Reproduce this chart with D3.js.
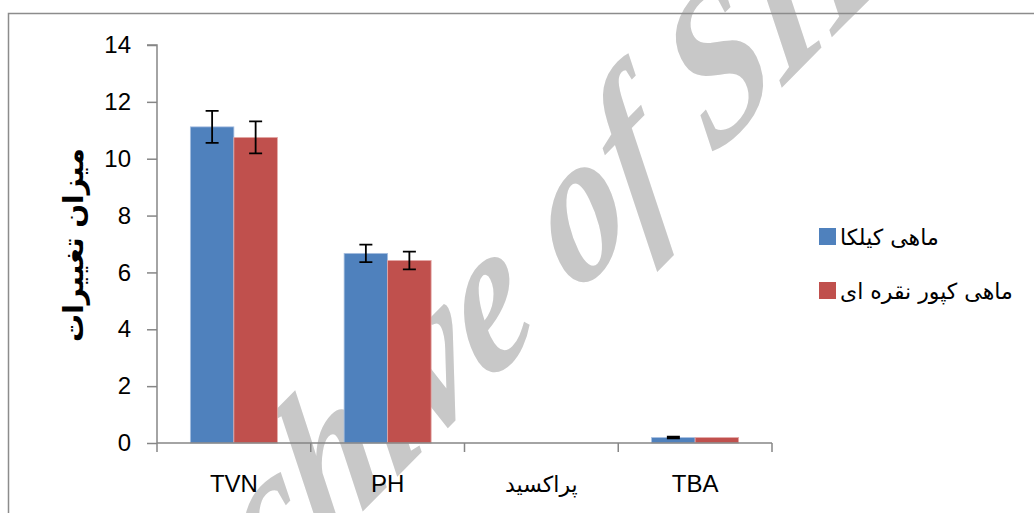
<!DOCTYPE html>
<html>
<head>
<meta charset="utf-8">
<script src="https://cdn.jsdelivr.net/npm/d3@7"></script>
<style>
  html, body { margin: 0; padding: 0; background: #fff; }
  svg { display: block; }
</style>
</head>
<body>
<svg id="chart" width="1034" height="513"></svg>
<script>
const categories = ["TVN", "PH", "پراکسید", "TBA"];
const seriesNames = ["ماهی کیلکا", "ماهی کپور نقره ای"];
const kilkaValues = [11.12, 6.67, 0, 0.19];
const kilkaErrors = [0.56, 0.31, 0, 0.03];
const carpValues = [10.75, 6.42, 0, 0.19];
const carpErrors = [0.56, 0.31, 0, 0];
const yTicks = [0, 2, 4, 6, 8, 10, 12, 14];
const yTitle = "میزان تغییرات";
const watermark = "Archive of SID";

const colors = ["#4f81bd", "#c0504d"];
const edgeColors = ["#a7bfe0", "#e4a9a7"];
const seriesValues = [kilkaValues, carpValues];
const seriesErrors = [kilkaErrors, carpErrors];

const svg = d3.select("#chart");

// watermark (behind everything), clipped to the page
svg.append("clipPath").attr("id", "page")
  .append("rect").attr("x", 0).attr("y", 0).attr("width", 1034).attr("height", 513);
svg.append("g").attr("clip-path", "url(#page)")
  .append("text")
  .attr("transform", "translate(132,745) scale(0.7,1) rotate(-35.3)")
  .attr("font-family", "'Liberation Serif', serif")
  .attr("font-style", "italic")
  .attr("font-weight", "bold")
  .attr("font-size", 223)
  .attr("fill", "#c8c8c8")
  .text(watermark);

// outer chart border
svg.append("rect")
  .attr("x", 8.5).attr("y", 13.5)
  .attr("width", 1200).attr("height", 700)
  .attr("fill", "none")
  .attr("stroke", "#8c8c8c")
  .attr("stroke-width", 1.5);

const x0 = d3.scaleBand().domain(categories).range([157, 772]).paddingInner(0).paddingOuter(0);
const x1 = d3.scaleBand().domain([0, 1]).range([0, x0.bandwidth()]).paddingInner(0).paddingOuter(0.767);
const y = d3.scaleLinear().domain([0, 14]).range([443, 45]);

// bars
const data = [];
categories.forEach((c, i) => {
  [0, 1].forEach(s => {
    data.push({ cat: c, s: s, v: seriesValues[s][i], e: seriesErrors[s][i] });
  });
});

svg.append("g").selectAll("rect")
  .data(data.filter(d => d.v > 0))
  .join("rect")
  .attr("x", d => x0(d.cat) + x1(d.s))
  .attr("y", d => y(d.v))
  .attr("width", x1.bandwidth())
  .attr("height", d => y(0) - y(d.v))
  .attr("fill", d => colors[d.s])
  .attr("stroke", d => edgeColors[d.s])
  .attr("stroke-width", 0.8);

// y axis
const yAxis = d3.axisLeft(y).tickValues(yTicks).tickSize(10).tickPadding(16).tickFormat(d3.format("d"));
const gy = svg.append("g").attr("transform", "translate(157,0)").call(yAxis);
gy.select(".domain").attr("stroke", "#868686").attr("stroke-width", 1.5)
  .attr("d", `M-10,${y(14)}H0V${y(0)}`);
gy.selectAll(".tick line").attr("stroke", "#868686").attr("stroke-width", 1.5);
gy.selectAll(".tick text")
  .attr("font-family", "'Liberation Sans', Arial, sans-serif")
  .attr("font-size", 24)
  .attr("fill", "#000");

// x axis
const gx = svg.append("g").attr("transform", `translate(0,${y(0)})`);
gx.append("line")
  .attr("x1", 157).attr("x2", 772).attr("y1", 0).attr("y2", 0)
  .attr("stroke", "#868686").attr("stroke-width", 1.5);
const boundaries = categories.map(c => x0(c)).concat([x0(categories[categories.length - 1]) + x0.bandwidth()]);
gx.selectAll("line.tk")
  .data(boundaries)
  .join("line")
  .attr("class", "tk")
  .attr("x1", d => d).attr("x2", d => d)
  .attr("y1", 0).attr("y2", 9)
  .attr("stroke", "#868686").attr("stroke-width", 1.5);
gx.selectAll("text")
  .data(categories)
  .join("text")
  .attr("x", d => x0(d) + x0.bandwidth() / 2)
  .attr("y", 49)
  .attr("text-anchor", "middle")
  .attr("font-family", d => /[A-Za-z]/.test(d) ? "'Liberation Sans', Arial, sans-serif" : "'DejaVu Sans', sans-serif")
  .attr("font-size", d => /[A-Za-z]/.test(d) ? 24 : 22)
  .attr("fill", "#000")
  .text(d => d);

// error bars
const eb = svg.append("g").attr("stroke", "#000").attr("stroke-width", 1.8).attr("fill", "none");
data.filter(d => d.e > 0).forEach(d => {
  const cx = x0(d.cat) + x1(d.s) + x1.bandwidth() / 2;
  const yt = y(d.v + d.e), yb = y(d.v - d.e);
  eb.append("path")
    .attr("d", `M${cx},${yt}V${yb}M${cx - 6.5},${yt}H${cx + 6.5}M${cx - 6.5},${yb}H${cx + 6.5}`);
});

// y title
svg.append("text")
  .attr("transform", "translate(83,245) rotate(-90)")
  .attr("text-anchor", "middle")
  .attr("font-family", "'DejaVu Sans', sans-serif")
  .attr("font-weight", "bold")
  .attr("font-size", 28)
  .attr("fill", "#000")
  .text(yTitle);

// legend
const lg = svg.append("g");
seriesNames.forEach((name, i) => {
  const ly = 237 + i * 54;
  lg.append("rect")
    .attr("x", 819).attr("y", ly - 9)
    .attr("width", 17).attr("height", 17)
    .attr("fill", colors[i]);
  lg.append("text")
    .attr("x", 840).attr("y", ly)
    .attr("dy", "0.35em")
    .attr("text-anchor", "start")
    .attr("font-family", "'DejaVu Sans', sans-serif")
    .attr("font-size", 22)
    .attr("fill", "#000")
    .text(name);
});
</script>
</body>
</html>
